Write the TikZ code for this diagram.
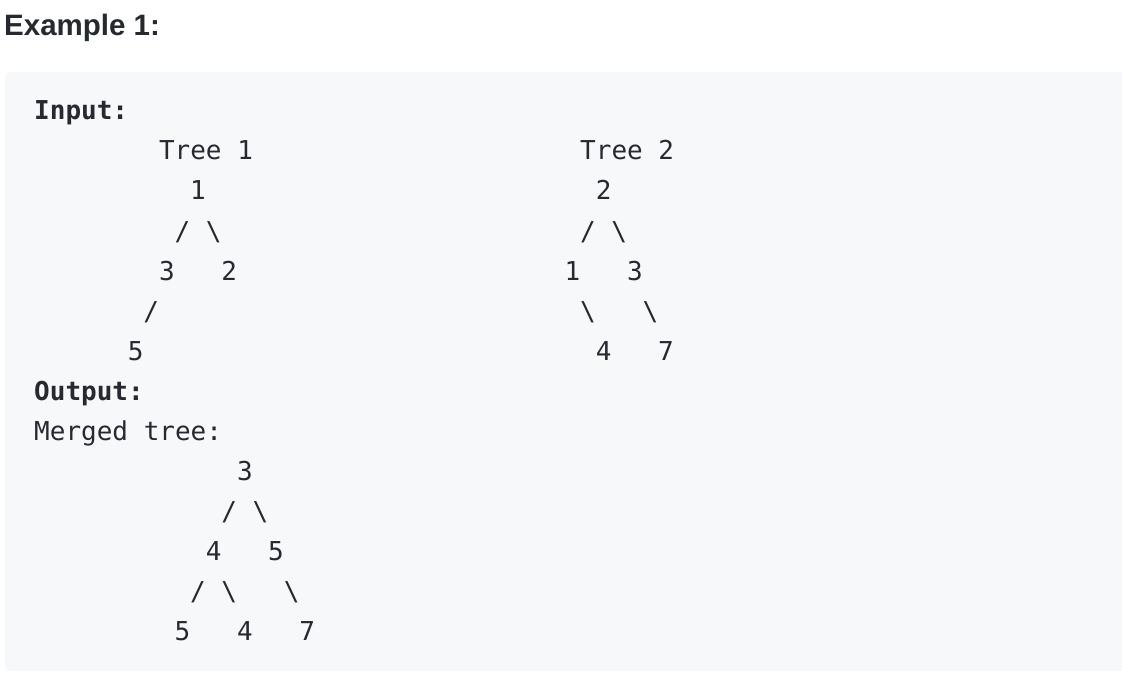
\documentclass[tikz,border=0pt]{standalone}
\usepackage{fontspec}
\setmainfont{Liberation Sans}
\newfontfamily\codefont{DejaVu Sans Mono}
\usepackage{xcolor}
\definecolor{ink}{HTML}{262A30}
\definecolor{codebg}{HTML}{F7F8FA}

\tikzset{
  code/.style={anchor=base west, inner sep=0pt, text=ink, font=\codefont\fontsize{26}{26}\selectfont},
  codebold/.style={code, font=\codefont\bfseries\fontsize{26}{26}\selectfont},
}

\begin{document}
\begin{tikzpicture}[x=1pt, y=1pt]
	\useasboundingbox (0,0) rectangle (1122,-674);
	\fill[codebg, rounded corners=6pt] (5,-72) rectangle (1140,-671);
	\node[anchor=base west, inner sep=0pt, text=ink, font=\bfseries\fontsize{29.5}{29.5}\selectfont] (title) at (4,-36) {Example 1:};

	% code block: one unit = one character, one line
	\begin{scope}[shift={(34pt,-120pt)}, x=15.6pt, y=-40pt]
		\node[codebold] (input) at (0,0) {Input:};
		% tree 1
		\node[code] (t1title) at (8,1) {Tree 1};
		\node[code] (t1root) at (10,2) {1};
		\node[code] (t1ls) at (9,3) {/};
		\node[code] (t1rs) at (11,3) {\textbackslash};
		\node[code] (t1three) at (8,4) {3};
		\node[code] (t1two) at (12,4) {2};
		\node[code] (t1lls) at (7,5) {/};
		\node[code] (t1five) at (6,6) {5};
		% tree 2
		\node[code] (t2title) at (35,1) {Tree 2};
		\node[code] (t2root) at (36,2) {2};
		\node[code] (t2ls) at (35,3) {/};
		\node[code] (t2rs) at (37,3) {\textbackslash};
		\node[code] (t2one) at (34,4) {1};
		\node[code] (t2three) at (38,4) {3};
		\node[code] (t2lrs) at (35,5) {\textbackslash};
		\node[code] (t2rrs) at (39,5) {\textbackslash};
		\node[code] (t2four) at (36,6) {4};
		\node[code] (t2seven) at (40,6) {7};
		% merged
		\node[codebold] (output) at (0,7) {Output:};
		\node[code] (merged) at (0,8) {Merged tree:};
		\node[code] (mroot) at (13,9) {3};
		\node[code] (mls) at (12,10) {/};
		\node[code] (mrs) at (14,10) {\textbackslash};
		\node[code] (mfour) at (11,11) {4};
		\node[code] (mfive) at (15,11) {5};
		\node[code] (mlls) at (10,12) {/};
		\node[code] (mlrs) at (12,12) {\textbackslash};
		\node[code] (mrrs) at (16,12) {\textbackslash};
		\node[code] (mllfive) at (9,13) {5};
		\node[code] (mlrfour) at (13,13) {4};
		\node[code] (mrrseven) at (17,13) {7};
	\end{scope}
\end{tikzpicture}
\end{document}
